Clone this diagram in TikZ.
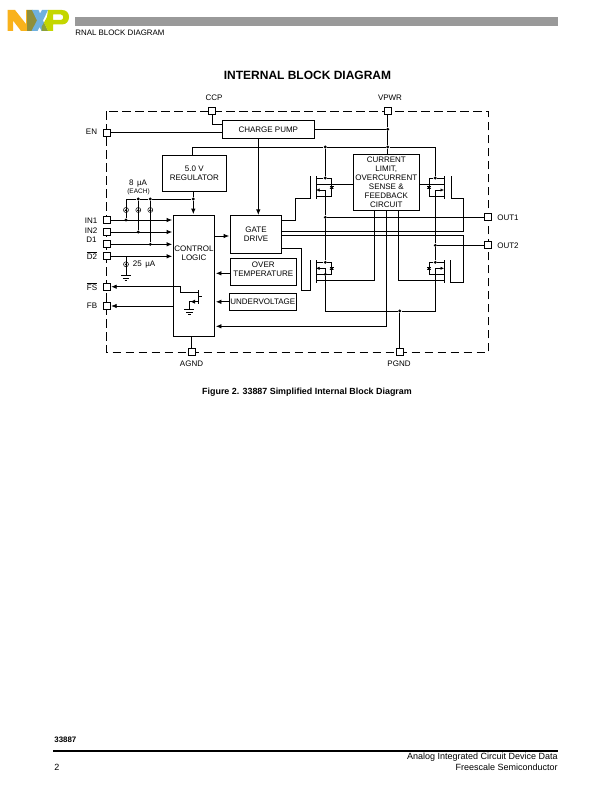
\documentclass[tikz,border=0pt]{standalone}
\usepackage{fontspec}
\setmainfont{Liberation Sans}
\usetikzlibrary{arrows.meta}
\newcommand{\smalltxt}{\fontsize{8}{9}\selectfont}
\definecolor{logoorange}{HTML}{F9B21C}
\definecolor{logoolive}{HTML}{8F8F3C}
\definecolor{logoblue}{HTML}{6FB1DF}
\definecolor{logogreen}{HTML}{8CA03C}
\definecolor{logolime}{HTML}{C4D600}

\begin{document}
\begin{tikzpicture}[x=1pt, y=-1pt, line width=0.8pt]
  \tikzstyle{block}=[draw, inner sep=0pt, align=center, font=\smalltxt]
  \tikzstyle{txt}=[inner sep=0pt, align=center, font=\smalltxt]
  \tikzstyle{pin}=[draw, fill=white, inner sep=0pt, minimum size=7pt]
  \tikzstyle{jdot}=[circle, fill=black, inner sep=0pt, minimum size=3.2pt]
  \tikzstyle{csrc}=[circle, draw, inner sep=0pt, minimum size=5pt, line width=0.5pt]
  \tikzstyle{arr}=[-{Latex[length=5.5pt,width=4.5pt]}, shorten >=0.8pt]

  \useasboundingbox[fill=white] (0,0) rectangle (612,792);

  % logo
  \fill[logoorange] (7.5,10) -- (15,10) -- (26,24) -- (26,10) -- (27,10) -- (27,31)
    -- (21,31) -- (13,20.5) -- (13,31) -- (7.5,31) -- cycle;
  \fill[logoolive] (27,10) -- (32.5,10) -- (38,20.5) -- (33,31) -- (27,31) -- cycle;
  \fill[logoblue] (32,10) -- (38.5,10) -- (40,13.5) -- (42,10) -- (48,10) -- (43,20.5)
    -- (48,31) -- (41.5,31) -- (39.5,27) -- (37.5,31) -- (31.5,31) -- (37,20.5) -- cycle;
  \fill[logogreen] (41.5,31) -- (48,31) -- (44,22.5) -- (41.5,27) -- cycle;
  \fill[logolime, even odd rule] (48,10) -- (62,10) .. controls (66.5,10) and (69,13) .. (69,17)
    .. controls (69,21) and (66.5,24.5) .. (62,24.5) -- (53,24.5) -- (53,31) -- (48,31) -- (44,22.5) -- (47,17) -- cycle
    (53,14.5) -- (53,20) -- (61,20) .. controls (64,20) and (64,14.5) .. (61,14.5) -- cycle;

  % header and footer
  \fill[black!40] (75,17) rectangle (558,26);
  \path (75,33) node[txt, anchor=west, font=\fontsize{7.9}{9}\selectfont] (hdr) {RNAL BLOCK DIAGRAM};
  \path (307.5,75) node[txt, font=\fontsize{12}{14}\selectfont\bfseries] (title) {INTERNAL BLOCK DIAGRAM};
  \path (307,392) node[txt, font=\fontsize{8.9}{10}\selectfont\bfseries] (caption) {Figure 2. 33887 Simplified Internal Block Diagram};
  \path (54,740) node[txt, anchor=west, font=\fontsize{7.9}{9}\selectfont\bfseries] (part) {33887};
  \path (54,767.5) node[txt, anchor=west, font=\fontsize{9}{10}\selectfont] (pageno) {2};
  \path (558,757) node[txt, anchor=east, font=\fontsize{9}{10}\selectfont] (foota) {Analog Integrated Circuit Device Data};
  \path (558,767.5) node[txt, anchor=east, font=\fontsize{9}{10}\selectfont] (footb) {Freescale Semiconductor};
  \draw[line width=1.6pt] (53,751) -- (558,751);

  % package outline
  \draw[dash pattern=on 8.5pt off 4.5pt] (106.5,111.3) rectangle (488.5,352.3);

  % pins
  \foreach \name/\px/\py/\lx/\ly/\txt in {
    CCP/212/111/214/97.5/CCP, VPWR/387.7/110.7/390/97.5/VPWR, EN/106.5/132.7/91.5/131.5/EN,
    INa/106.5/220/91/220.5/IN1, INb/106.5/232/91/230.5/IN2, Da/106.5/244.3/91.5/239.5/D1,
    Db/106.5/256.3/92/255.5/{$\overline{\mbox{D2}}$}, FS/106.5/286.7/92/286.5/{$\overline{\mbox{FS}}$},
    FB/106.5/306/92/305.5/FB, OUTa/487.7/217.3/508/218/OUT1, OUTb/487.7/245.3/508/245.5/OUT2,
    AGND/191.7/352.3/191.5/363.5/AGND, PGND/399.7/352.3/399/363.5/PGND}
  {
    \path (\px,\py) node[pin] (pin\name) {};
    \path (\lx,\ly) node[txt] (lab\name) {\txt};
  }

  % blocks
  \path (268.3,129.3) node[block, minimum width=92pt, minimum height=18pt] (pump) {CHARGE PUMP};
  \path (194.3,173.3) node[block, minimum width=64pt, minimum height=36pt] (reg) {5.0 V\\REGULATOR};
  \path (194,276) node[block, minimum width=41.4pt, minimum height=121.4pt] (ctrl) {};
  \path (194,253.7) node[txt] (ctrltxt) {CONTROL\\LOGIC};
  \path (256,234.3) node[block, minimum width=51.4pt, minimum height=38pt] (gate) {GATE\\DRIVE};
  \path (263.3,271.8) node[block, minimum width=66pt, minimum height=27pt] (over) {};
  \path (263.3,269.5) node[txt] (overtxt) {OVER\\TEMPERATURE};
  \path (262.8,301.8) node[block, minimum width=67pt, minimum height=17pt] (under) {UNDERVOLTAGE};
  \path (386.3,182.3) node[block, minimum width=66pt, minimum height=56pt] (clim)
    {CURRENT\\LIMIT,\\OVERCURRENT\\SENSE \&\\FEEDBACK\\CIRCUIT};

  % junctions
  \foreach \name/\px/\py in {
    jpump/387.7/129.3, jrail/387.7/147, jrailb/325.3/147, jsup/193.3/199, jsrcb/138.3/199,
    jsrcc/150.3/199, jina/126/220, jinb/138.3/232, jinc/150.3/244.3, jouta/325.3/217.3,
    joutb/435.3/245.3, jpgnd/399.7/311}
  {
    \path (\px,\py) node[jdot] (\name) {};
  }

  % output fets
  \foreach \fn/\cx/\mx/\dx/\gx/\ty/\by/\sy/\ey in {
    fhl/316/325.3/331.7/310.7/178/12/18.7/6, fhr/444/435.3/429/451.3/178/12/18.7/6,
    fll/316/325.3/331.7/310.7/262.3/6/12/18, flr/444/435.3/429/450.5/262.3/6/12/18}
  {
    \path (\mx,\ty) node[jdot] (\fn-d) {};
    \coordinate (\fn-s) at (\mx,\ty+\sy);
    \coordinate (\fn-b) at (\mx,\ty+\by);
    \coordinate (\fn-e) at (\cx,\ty+\ey);
    \coordinate (\fn-g) at (\gx,\ty+20.5);
    \draw (\cx,\ty-2) -- (\cx,\ty+20.5);
    \draw (\gx,\ty-2) -- (\fn-g);
    \draw (\cx,\ty) -- (\fn-d) -- (\dx,\ty) -- (\dx,\ty+\sy) -- (\fn-s) -- (\cx,\ty+\sy);
    \draw (\fn-s) -- (\fn-b);
    \draw[-{Latex[length=3.5pt,width=3.2pt]}, line width=0.5pt] (\fn-b) -- (\cx,\ty+\by);
    \fill (\dx-2,\ty+\sy/2+1.5) -- (\dx+2,\ty+\sy/2+1.5) -- (\dx,\ty+\sy/2-1.5) -- cycle;
    \draw[line width=0.6pt] (\dx-2,\ty+\sy/2-1.5) -- (\dx+2,\ty+\sy/2-1.5);
  }
  \path (fll-s) node[jdot] (jfll) {};

  \coordinate (ccpa) at (212,124.3);
  \coordinate (regtop) at (192.3,147);
  \coordinate (railr) at (435.3,147);
  \coordinate (gwa) at (295.7,220.3);
  \coordinate (gwb) at (463.3,231.7);
  \coordinate (gwc) at (463.3,235.7);
  \coordinate (gwd) at (301.7,248.3);
  \coordinate (gwe) at (301.7,290.3);
  \coordinate (sensel) at (374.7,210.3);
  \coordinate (senser) at (398.3,210.3);
  \coordinate (fbk) at (386.3,326.3);
  \coordinate (ovr) at (230.3,273.3);

  % power and signal wires
  \draw
    (pinCCP) -- (ccpa) -- (pump.west |- ccpa)
    (pinEN) -- (pump.west |- pinEN)
    (pinVPWR) -- (jpump) -- (jrail) -- (clim.north -| jrail)
    (pump.east |- jpump) -- (jpump)
    (reg.north -| regtop) -- (regtop) -- (jrailb) -- (jrail) -- (railr) -- (fhr-d)
    (jrailb) -- (fhl-d)
    (reg.south -| jsup) -- (jsup)
    (jsup) -- (jsrcc) -- (jsrcb) -- (126,199) -- (jina)
    (jsrcb) -- (jinb)
    (jsrcc) -- (jinc)
    (pinDb -| 126,0) -- (126,275)
    (pinAGND) -- (ctrl.south -| pinAGND)
    (pinPGND) -- (jpgnd);

  % outputs, gate drive, sense
  \draw
    (fhl-s) -- (jouta) -- (fll-d)
    (jouta) -- (pinOUTa)
    (fhr-s) -- (joutb) -- (flr-d)
    (joutb) -- (pinOUTb)
    (jfll) |- (jpgnd) -| (flr-s)
    (fhl-g) -| (gwa) -- (gate.east |- gwa)
    (fhr-g) -| (gwb) -- (gate.east |- gwb)
    (flr-g) -| (gwc) -- (gate.east |- gwc)
    (fll-g) |- (gwe) -- (gwd) -- (gate.east |- gwd)
    (clim.west |- fhl-e) -- (fhl-e)
    (clim.east |- fhr-e) -- (fhr-e)
    (fll-e) -| (sensel)
    (flr-e) -| (senser);

  % arrows
  \foreach \name in {INa, INb, Da, Db}
  {
    \draw[arr] (pin\name) -- (ctrl.west |- pin\name);
  }
  \draw[arr] (jsup) -- (ctrl.north -| jsup);
  \draw[arr] (pump.south -| gate.north) ++(2.3,0) -- ++(0,77);
  \draw[arr] (ctrl.east |- 0,236) -- (gate.west |- 0,236);
  \draw[arr] (ovr) -- (ctrl.east |- ovr);
  \draw[arr] (under.west) -- (ctrl.east |- under.west);
  \draw[arr] (clim.south) -- (fbk) -- (ctrl.east |- fbk);
  \draw[arr] (ctrl.west |- pinFB) -- (pinFB);

  % open drain output inside control logic
  \coordinate (qfsa) at (180.3,286.7);
  \coordinate (qfsb) at (180.3,292.5);
  \coordinate (qfsc) at (198.3,292.5);
  \coordinate (qfsd) at (198.3,301.7);
  \coordinate (qfse) at (189.3,301.7);
  \coordinate (gndb) at (189.3,309.7);
  \coordinate (gnda) at (126,275.5);
  \draw[arr] (qfsc) -- (qfsb) -- (qfsa) -- (pinFS);
  \draw (198.3,290) -- (198.3,304.3) (198.3,296.7) -- (202,296.7);
  \draw (qfsd) -- (qfse) -- (gndb);
  \fill (191,301.7) -- (195,299.7) -- (195,303.7) -- cycle;

  % grounds
  \foreach \gn in {gnda, gndb}
  {
    \draw ([xshift=-5pt]\gn) -- ([xshift=5pt]\gn);
    \draw ([xshift=-3.2pt,yshift=-2.4pt]\gn) -- ([xshift=3.2pt,yshift=-2.4pt]\gn);
    \draw ([xshift=-1.4pt,yshift=-4.8pt]\gn) -- ([xshift=1.4pt,yshift=-4.8pt]\gn);
  }

  % current sources
  \foreach \i/\px/\py in {a/126/210, b/138.3/210, c/150.3/210, d/126/264.3}
  {
    \path (\px,\py) node[csrc] (src\i) {};
    \fill (\px-1.3,\py+0.8) -- (\px+1.3,\py+0.8) -- (\px,\py-1) -- cycle;
  }
  \path (138,183.5) node[txt] (srclab) {8 \,µA};
  \path (138.5,191.5) node[txt, font=\fontsize{6.5}{8}\selectfont] (srcnote) {(EACH)};
  \path (144,264.5) node[txt] (srclabb) {25 \,µA};
\end{tikzpicture}
\end{document}
